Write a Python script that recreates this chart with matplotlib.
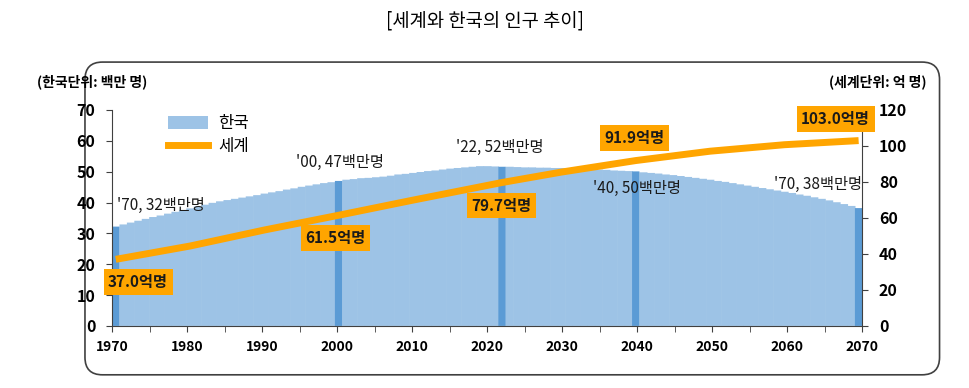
import numpy as np
import matplotlib
matplotlib.use("Agg")
import matplotlib.pyplot as plt
from matplotlib.patches import FancyBboxPatch, Patch
from matplotlib.lines import Line2D

plt.rcParams['font.family'] = ['Noto Sans CJK KR', 'DejaVu Sans']

# ---- data ----
years = list(range(1970, 2071))
korea = [32.2, 32.9, 33.5, 34.1, 34.7, 35.3, 35.8, 36.4, 37.0, 37.5,
         38.1, 38.7, 39.3, 39.9, 40.4, 40.8, 41.2, 41.6, 42.0, 42.4,
         42.9, 43.3, 43.7, 44.2, 44.6, 45.1, 45.5, 45.9, 46.3, 46.6,
         47.0, 47.4, 47.6, 47.9, 48.0, 48.2, 48.4, 48.7, 49.1, 49.3,
         49.6, 49.9, 50.2, 50.4, 50.7, 51.0, 51.2, 51.4, 51.6, 51.8,
         51.8, 51.7, 51.6, 51.6, 51.5, 51.4, 51.4, 51.3, 51.3, 51.2,
         51.2, 51.1, 51.0, 50.9, 50.8, 50.7, 50.6, 50.4, 50.3, 50.2,
         50.1, 49.8, 49.6, 49.4, 49.1, 48.9, 48.6, 48.3, 48.0, 47.7,
         47.4, 47.0, 46.7, 46.3, 45.9, 45.5, 45.1, 44.7, 44.3, 43.9,
         43.5, 43.1, 42.6, 42.2, 41.7, 41.2, 40.7, 40.1, 39.5, 38.9,
         38.2]
highlight_years = [1970, 2000, 2022, 2040, 2070]
korea_labels = ["'70, 32백만명", "'00, 47백만명", "'22, 52백만명", "'40, 50백만명", "'70, 38백만명"]

world_years = [1970, 1980, 1990, 2000, 2010, 2022, 2030, 2040, 2050, 2060, 2070]
world = [37.0, 44.4, 53.3, 61.5, 69.9, 79.7, 85.5, 91.9, 97.1, 100.7, 103.0]
world_labels = ["37.0억명", "61.5억명", "79.7억명", "91.9억명", "103.0억명"]

tick_years = list(range(1970, 2071, 10))

light = '#9DC3E6'
dark = '#5B9BD5'
orange = '#FFA500'

fig = plt.figure(figsize=(9.7, 3.88), dpi=100)

# rounded frame
frame = FancyBboxPatch((0.0876, 0.034), 0.881, 0.806,
                       boxstyle="round,pad=0,rounding_size=0.018",
                       transform=fig.transFigure, facecolor='none',
                       edgecolor='#404040', linewidth=1.2, zorder=-10,
                       mutation_aspect=2.5)
fig.patches.append(frame)

fig.text(0.5, 0.945, "[세계와 한국의 인구 추이]", ha='center', va='center', fontsize=13.5)

ax = fig.add_axes([0.1155, 0.16, 0.7735, 0.5565])
ax.set_facecolor('none')
idx = np.arange(len(years))
# light bars first, highlighted ones on top
light_idx = [i for i, y in enumerate(years) if y not in highlight_years]
dark_idx = [i for i, y in enumerate(years) if y in highlight_years]
ax.bar(idx[light_idx], [korea[i] for i in light_idx], width=1.08, align='edge',
       color=light, linewidth=0, snap=False)
ax.bar(idx[dark_idx], [korea[i] for i in dark_idx], width=1.0, align='edge',
       color=dark, linewidth=0, snap=False)
ax.set_xlim(0, len(years))
ax.set_ylim(0, 70)
ax.set_yticks(range(0, 71, 10))
ax.set_xticks([(y - 1970) * len(years) / 100 for y in tick_years])
ax.set_xticklabels([str(y) for y in tick_years])
ax.set_xticks([(y - 1970) * len(years) / 100 for y in range(1975, 2070, 10)], minor=True)
for s in ['top', 'right']:
    ax.spines[s].set_visible(False)
ax.spines['left'].set_color('#404040')
ax.spines['bottom'].set_color('#404040')
ax.tick_params(axis='both', which='both', direction='out', length=4, color='#404040')
ax.tick_params(axis='x', labelsize=10)
ax.tick_params(axis='y', labelsize=11.5)
for t in ax.get_xticklabels() + ax.get_yticklabels():
    t.set_fontweight('bold')
ax.tick_params(axis='x', pad=6)
ax.tick_params(axis='y', pad=8)

ax2 = ax.twinx()
ax2.set_ylim(0, 120)
ax2.set_yticks(range(0, 121, 20))
wx = [years.index(y) + 0.5 for y in world_years]
ax2.plot(wx, world, color=orange, linewidth=5, solid_capstyle='butt', zorder=3)
for s in ['top', 'left', 'bottom']:
    ax2.spines[s].set_visible(False)
ax2.spines['right'].set_color('#404040')
ax2.tick_params(axis='y', direction='out', length=4, color='#404040', labelsize=11.5, pad=8)
for t in ax2.get_yticklabels():
    t.set_fontweight('bold')

# Korea labels
kpos = [(0.7, 39.2, 'left'), (30.7, 53.1, 'center'), (52.2, 57.7, 'center'),
        (70.7, 44.7, 'center'), (101, 45.7, 'right')]
for (x, y, ha), s in zip(kpos, korea_labels):
    ax.text(x, y, s, ha=ha, va='center', fontsize=11, fontweight='medium',
            color='#1a1a1a', zorder=5)

# world labels
wpos = [(3.5, 24.4), (30.1, 48.9), (52.4, 66.7), (70.3, 104.4), (97.4, 115)]
for (x, y), s in zip(wpos, world_labels):
    ax2.text(x, y, s, ha='center', va='center', fontsize=11, fontweight='bold',
             color='#1a1a1a', zorder=6,
             bbox=dict(boxstyle='square,pad=0.3', facecolor=orange, edgecolor='none'))

# unit labels
fig.text(0.038, 0.79, "(한국단위: 백만 명)", ha='left', va='center', fontsize=10, fontweight='bold')
fig.text(0.955, 0.79, "(세계단위: 억 명)", ha='right', va='center', fontsize=10, fontweight='bold')

# legend
handles = [Patch(facecolor=light, edgecolor='none'),
           Line2D([0], [0], color=orange, linewidth=5)]
ax.legend(handles, ['한국', '세계'], loc='upper left', bbox_to_anchor=(0.055, 1.045),
          frameon=False, fontsize=12, handlelength=2.4, handleheight=0.8,
          handletextpad=0.6, labelspacing=0.35)

fig.savefig('out.png', dpi=100)
